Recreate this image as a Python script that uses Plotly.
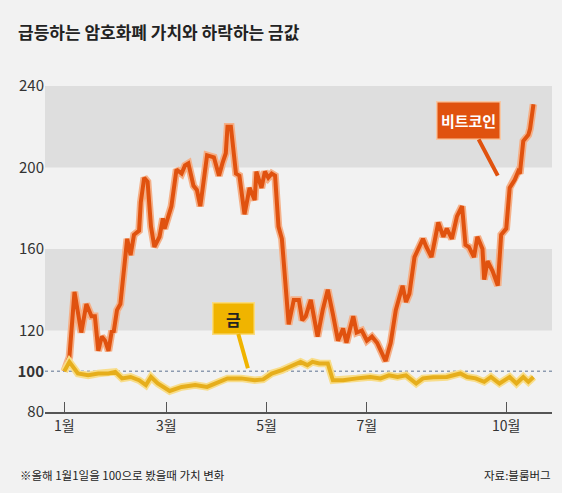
import plotly.graph_objects as go

# x = day index from Jan 1 (approx.), y = value index (Jan 1 = 100)
btc_t = [0, 3, 6, 10, 13, 16, 18, 20, 22, 24, 26, 28, 29, 31, 33, 35, 37, 39, 41, 44, 45, 47, 49, 51, 53, 56, 58, 59,
         63, 66, 69, 71, 73, 76, 78, 80, 84, 88, 91, 93, 95, 96, 98, 101, 103, 106, 109, 112, 113, 116, 118, 120,
         122, 124, 126, 128, 132, 135, 138, 140, 142, 145, 149, 152, 155, 158, 161, 164, 166, 170, 172, 175, 178,
         181, 184, 189, 192, 195, 199, 201, 203, 206, 209, 211, 213, 216, 220, 223, 225, 228, 231, 234, 236, 238,
         241, 243, 246, 247, 249, 252, 255, 257, 260, 262, 265, 267, 268, 270, 273, 274, 276]
btc_v = [100, 107, 139, 119, 133, 127, 127, 110, 117, 115, 110, 120, 119, 130, 133, 148, 165, 157, 167, 169, 183, 195,
         193, 171, 161, 166, 175, 170, 181, 199, 197, 201, 202, 191, 189, 181, 206, 205, 196, 202, 207, 220, 220,
         197, 196, 177, 190, 184, 198, 190, 198, 195, 197, 196, 171, 165, 123, 135, 135, 125, 127, 135, 117, 130,
         140, 128, 115, 121, 114, 127, 119, 120, 115, 117, 114, 105, 114, 130, 142, 134, 138, 156, 162, 165, 161,
         156, 173, 166, 170, 165, 176, 181, 162, 161, 156, 166, 160, 145, 154, 149, 142, 167, 170, 190, 194, 198,
         197, 213, 216, 219, 231]

gold_t = [0, 3, 8, 14, 20, 26, 30, 34, 39, 44, 48, 51, 55, 62, 69, 77, 84, 91, 96, 104, 112, 117, 122, 128, 134,
          139, 143, 146, 150, 155, 158, 164, 172, 180, 186, 191, 196, 201, 207, 211, 217, 225, 233, 237, 242, 247,
          251, 256, 262, 266, 270, 273, 276]
gold_v = [100, 104.6, 98.9, 98, 98.9, 98.9, 99.7, 96.5, 97.2, 95.6, 93.2, 97.2, 94, 90.3, 92.3, 93.2, 92.3, 94.8,
          96.5, 96.5, 95.6, 96, 98.9, 100.5, 103, 104.6, 103, 104.6, 103.8, 103.8, 95.6, 95.6, 96.5, 97.2, 96.5,
          98, 97.2, 98, 94, 96.5, 97, 97.2, 98.9, 97.2, 96.5, 94.8, 97.2, 94, 97.2, 94, 97.2, 94.8, 97.2]

x_tickvals = [0, 60, 119, 178, 260]
x_ticktext = ["1월", "3월", "5월", "7월", "10월"]
y_tickvals = [80, 100, 120, 160, 200, 240]
y_ticktext = ["80", "<b>100</b>", "120", "160", "200", "240"]
bands = [(120, 160), (200, 240)]

FONT = "Noto Sans CJK KR"
BTC = "#e0520f"
BTC_HALO = "#f5b088"
GOLD = "#e6ae1c"
GOLD_HALO = "#f8dd8a"

H, W = 493, 562
mt, mb, ml, mr = 86, 81, 45, 10
ph, pw = H - mt - mb, W - ml - mr


def py(pix_y):
    return (H - mb - pix_y) / ph


def px(pix_x):
    return (pix_x - ml) / pw


fig = go.Figure()
fig.add_trace(go.Scatter(x=btc_t, y=btc_v, mode="lines", line=dict(color=BTC_HALO, width=7.5), hoverinfo="skip"))
fig.add_trace(go.Scatter(x=btc_t, y=btc_v, mode="lines", line=dict(color=BTC, width=4), name="비트코인"))
fig.add_trace(go.Scatter(x=gold_t, y=gold_v, mode="lines", line=dict(color=GOLD_HALO, width=7.5), hoverinfo="skip"))
fig.add_trace(go.Scatter(x=gold_t, y=gold_v, mode="lines", line=dict(color=GOLD, width=4), name="금"))

for lo, hi in bands:
    fig.add_shape(type="rect", xref="paper", x0=0, x1=1, yref="y", y0=lo, y1=hi,
                  fillcolor="#dedede", line=dict(width=0), layer="below")
fig.add_shape(type="line", xref="paper", x0=0, x1=1, yref="y", y0=100, y1=100,
              line=dict(color="#8d9bb0", width=1.5, dash="dot"), layer="below")

fig.add_annotation(x=255, y=196, xref="x", yref="y", ax=-29, ay=-55, text="<b>비트코인</b>",
                   showarrow=True, arrowhead=0, arrowwidth=4, arrowcolor=BTC,
                   font=dict(family=FONT, size=15, color="white"), bgcolor=BTC,
                   bordercolor="#f7c7a4", borderwidth=1.5, borderpad=2, width=58, height=32)
fig.add_annotation(x=108, y=101.5, xref="x", yref="y", ax=-14, ay=-50, text="<b>금</b>",
                   showarrow=True, arrowhead=0, arrowwidth=4, arrowcolor="#f0b400",
                   font=dict(family=FONT, size=16, color="#222"), bgcolor="#f0b400",
                   bordercolor="#f9dc80", borderwidth=1.5, borderpad=2, width=36, height=26)

fig.add_annotation(x=px(16), y=py(31), xref="paper", yref="paper",
                   text="<b>급등하는 암호화폐 가치와 하락하는 금값</b>",
                   showarrow=False, xanchor="left", yanchor="middle",
                   font=dict(family=FONT, size=17, color="#222"))
fig.add_annotation(x=px(18), y=py(475), xref="paper", yref="paper",
                   text="※올해 1월1일을 100으로 봤을때 가치 변화", showarrow=False,
                   xanchor="left", yanchor="middle", font=dict(family=FONT, size=11.5, color="#222"))
fig.add_annotation(x=px(553), y=py(475), xref="paper", yref="paper",
                   text="자료:블룸버그", showarrow=False,
                   xanchor="right", yanchor="middle", font=dict(family=FONT, size=11.5, color="#222"))

fig.update_layout(
    width=W, height=H,
    margin=dict(l=ml, r=mr, t=mt, b=mb),
    paper_bgcolor="#f2f2f2", plot_bgcolor="#f2f2f2",
    showlegend=False,
    font=dict(family=FONT, color="#333"),
    xaxis=dict(range=[-11.35, 286.9], tickvals=x_tickvals, ticktext=x_ticktext, showgrid=False,
               zeroline=False, showline=True, linecolor="#555", linewidth=2, ticks="inside",
               ticklen=10, tickcolor="#555", tickwidth=1, tickfont=dict(size=14, color="#333")),
    yaxis=dict(range=[80, 240], tickvals=y_tickvals, ticktext=y_ticktext, showgrid=False,
               zeroline=False, showline=False, ticks="", tickfont=dict(size=15, color="#333")),
)

fig.write_html("out.html", config={"displayModeBar": False},
               post_script="document.body.style.margin='0';document.body.style.background='#f2f2f2';")
